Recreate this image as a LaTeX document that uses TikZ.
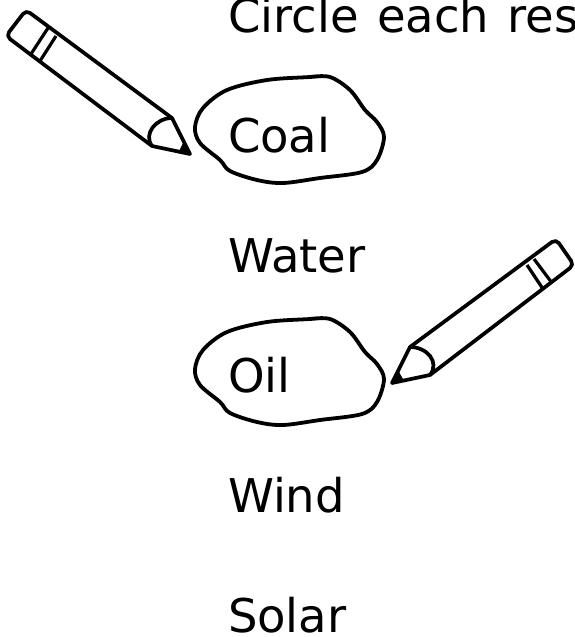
\documentclass[tikz,border=0pt]{standalone}
\usepackage{fontspec}
\setmainfont{DejaVu Sans}
\tikzset{
  word/.style={anchor=base west,inner sep=0pt,outer sep=0pt,font=\fontsize{46.5}{54}\selectfont,text=black},
  ink/.style={draw=black,line width=3.7pt,line join=round,line cap=round},
  thin ink/.style={draw=black,line width=3.2pt,line join=round},
}
\newcommand{\blobshape}{
  \draw[ink,line width=3.8pt] plot[smooth,tension=0.55] coordinates {(322,76) (310,77) (267,80) (227,90) (203,108) (195,127) (200,143) (220,160) (230,171) (257,180) (283,183) (320,178) (362,172) (377,160) (384,137) (377,122) (365,110) (350,90) (330,77) (310,77)};
}
\begin{document}
\begin{tikzpicture}[x=1pt,y=-1pt]
\useasboundingbox (0,0) rectangle (575,637);
\clip (0,0) rectangle (575,637);
\fill[white] (0,0) rectangle (575,637);
\node[word] (title) at (228,32) {\spaceskip=18.5pt Circle each res};
\node[word] (coal) at (228,152) {Coal};
\node[word] (water) at (228,272) {Water};
\node[word] (oil) at (228,392) {Oil};
\node[word] (wind) at (228,512) {Wind};
\node[word] (solar) at (228,632) {Solar};
% circles
\blobshape
\begin{scope}[yshift=-242pt]
\blobshape
\end{scope}
% left pencil
\draw[ink,rounded corners=5pt] (172,118) -- (26,10) -- (6,36) -- (152,146);
\draw[thin ink] (48,28) -- (31,54);
\draw[thin ink] (56,36) -- (40,61);
\draw[ink,miter limit=10] (172,118) -- (190,154) -- (152,146);
\draw[ink] (172,118) .. controls (156,118) and (143,134) .. (152,146);
\fill[black] (191,155) -- (178,153) -- (184,141) -- cycle;
% right pencil
\draw[ink,rounded corners=5pt] (410,347) -- (556,239) -- (574,265) -- (430,375);
\draw[thin ink] (527,265) -- (543,289);
\draw[thin ink] (534,259) -- (552,283);
\draw[ink] (410,347) -- (392,383) -- (430,375);
\draw[ink] (410,347) .. controls (427,347) and (440,362) .. (430,375);
\fill[black] (391,384) -- (404,381) -- (398,370) -- cycle;
\end{tikzpicture}
\end{document}
